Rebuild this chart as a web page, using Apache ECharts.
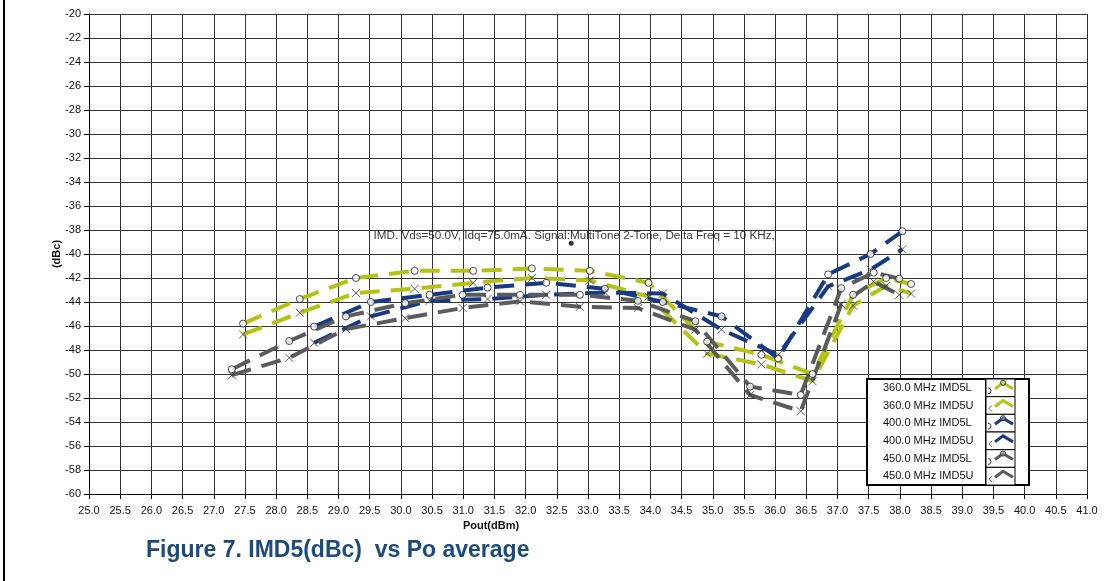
<!DOCTYPE html>
<html>
<head>
<meta charset="utf-8">
<title>IMD5 vs Pout</title>
<script src="https://cdn.jsdelivr.net/npm/echarts@6.0.0/dist/echarts.min.js"></script>
<style>
  html, body { margin: 0; padding: 0; background: #fff; }
  #chart { width: 1106px; height: 581px; }
</style>
</head>
<body>
<div id="chart"></div>
<script>
// Measured output power (dBm) for each frequency
const pout360 = [27.47, 28.38, 29.28, 30.22, 31.16, 32.10, 33.03, 33.97, 34.91, 35.78, 36.60, 37.25, 37.78, 38.18];
const pout400 = [28.61, 29.52, 30.46, 31.39, 32.33, 33.27, 34.20, 35.14, 36.05, 36.85, 37.53, 38.04];
const pout450 = [27.29, 28.21, 29.12, 30.07, 30.99, 31.91, 32.87, 33.80, 34.72, 35.60, 36.41, 37.06, 37.58, 37.99];

// IMD5 lower / upper sidebands (dBc)
const imd5L360 = [-45.8, -43.75, -42.0, -41.4, -41.4, -41.2, -41.4, -42.4, -47.3, -48.4, -50.0, -43.4, -42.0, -42.5];
const imd5U360 = [-46.7, -44.9, -43.25, -42.9, -42.4, -42.0, -42.2, -43.55, -48.3, -49.2, -50.6, -44.3, -42.65, -43.3];
const imd5L400 = [-46.05, -44.0, -43.4, -42.8, -42.4, -42.9, -44.0, -45.2, -48.7, -41.7, -40.0, -38.1];
const imd5U400 = [-47.4, -45.2, -43.9, -43.75, -43.4, -43.2, -43.3, -46.3, -48.4, -42.7, -41.3, -39.6];
const imd5L450 = [-49.6, -47.25, -45.2, -44.1, -43.4, -43.4, -43.4, -43.9, -45.6, -51.05, -51.75, -42.85, -41.55, -42.05];
const imd5U450 = [-50.1, -48.65, -46.25, -45.35, -44.5, -43.95, -44.4, -44.5, -46.3, -51.75, -53.1, -44.2, -42.3, -43.4];

// Axis tick settings
const xMin = 25, xMax = 41, xStep = 0.5;
const yMin = -60, yMax = -20, yStep = 2;

// Test-condition note and its anchor point
const noteText = 'IMD. Vds=50.0V, Idq=75.0mA. Signal:MultiTone 2-Tone, Delta Freq = 10 KHz,';
const notePoint = [[32.73, -39.1]];

const FONT = '"Liberation Sans", Arial, sans-serif';
const YELLOW = '#b3c213';
const NAVY = '#173a86';
const GREY = '#5b5b5b';

const CROSS = 'path://M0 0L10 10M10 0L0 10';

const curves = [
  { name: '360.0 MHz IMD5L', x: pout360, y: imd5L360, color: YELLOW, mark: 'o' },
  { name: '360.0 MHz IMD5U', x: pout360, y: imd5U360, color: YELLOW, mark: 'x' },
  { name: '400.0 MHz IMD5L', x: pout400, y: imd5L400, color: NAVY,   mark: 'o' },
  { name: '400.0 MHz IMD5U', x: pout400, y: imd5U400, color: NAVY,   mark: 'x' },
  { name: '450.0 MHz IMD5L', x: pout450, y: imd5L450, color: GREY,   mark: 'o' },
  { name: '450.0 MHz IMD5U', x: pout450, y: imd5U450, color: GREY,   mark: 'x' }
];

const zip = (xs, ys) => xs.map((v, i) => [v, ys[i]]);

const series = [];
curves.forEach(c => {
  series.push({
    name: c.name,
    type: 'line',
    data: zip(c.x, c.y),
    showSymbol: false,
    silent: true,
    z: 2,
    lineStyle: { color: c.color, width: 4, type: [20, 11], cap: 'butt' }
  });
});
curves.forEach(c => {
  series.push({
    name: c.name + ' markers',
    type: 'scatter',
    data: zip(c.x, c.y),
    silent: true,
    z: 5,
    symbol: c.mark === 'o' ? 'circle' : CROSS,
    symbolSize: c.mark === 'o' ? 7 : 8,
    itemStyle: c.mark === 'o'
      ? { color: '#fff', borderColor: '#1a1a1a', borderWidth: 1 }
      : { color: 'rgba(0,0,0,0)', borderColor: '#333', borderWidth: 1 }
  });
});
series.push({
  name: 'note',
  type: 'scatter',
  data: notePoint,
  symbol: 'circle',
  symbolSize: 5,
  z: 6,
  silent: true,
  itemStyle: { color: '#000' },
  label: {
    show: true,
    position: 'top',
    distance: -1,
    offset: [3, 0],
    formatter: noteText,
    color: '#000',
    fontSize: 11.7,
    fontFamily: FONT
  }
});

// Legend table drawn at the lower right of the plot
const legX = 867, legY = 379, rowH = 17.67;
const textW = 119, iconW = 29, spareW = 14;
const legend = [];
legend.push({ type: 'rect', shape: { x: legX, y: legY, width: textW + iconW + spareW, height: rowH * 6 },
  style: { fill: '#fff', stroke: '#000', lineWidth: 2 }, z: 20 });
legend.push({ type: 'rect', shape: { x: legX, y: legY, width: textW, height: rowH * 6 },
  style: { fill: '#fff', stroke: '#000', lineWidth: 2 }, z: 21 });
curves.forEach((c, i) => {
  const top = legY + i * rowH;
  const cy = top + rowH / 2;
  const ix = legX + textW;
  legend.push({ type: 'text', x: legX + 16, y: cy, z: 22,
    style: { text: c.name, fill: '#111', font: '11px ' + FONT, verticalAlign: 'middle', align: 'left' } });
  legend.push({ type: 'rect', shape: { x: ix, y: top, width: iconW, height: rowH }, z: 21,
    style: { fill: '#fff', stroke: '#000', lineWidth: 1 } });
  if (c.mark === 'o') {
    legend.push({ type: 'arc', shape: { cx: ix + 2, cy: cy + 3, r: 3, startAngle: -Math.PI / 2, endAngle: Math.PI / 2 }, z: 22,
      style: { stroke: '#333', lineWidth: 1, fill: null } });
  } else {
    legend.push({ type: 'polyline', shape: { points: [[ix + 6, cy], [ix + 3, cy + 3], [ix + 6, cy + 6]] }, z: 22,
      style: { stroke: '#555', lineWidth: 1, fill: null } });
  }
  legend.push({ type: 'polyline', shape: { points: [[ix + 9, cy + 1], [ix + 17, cy - 5], [ix + 27, cy + 1]] }, z: 22,
    style: { stroke: c.color, lineWidth: 3, fill: null } });
  if (c.mark === 'o') {
    legend.push({ type: 'circle', shape: { cx: ix + 17, cy: cy - 5, r: 2.5 }, z: 23,
      style: { fill: 'rgba(255,255,255,0.3)', stroke: '#333', lineWidth: 1 } });
  }
});

const option = {
  animation: false,
  backgroundColor: '#fff',
  grid: { left: 89, right: 19, top: 14, bottom: 87, containLabel: false },
  xAxis: {
    type: 'value', min: xMin, max: xMax, interval: xStep,
    axisLine: { show: true, onZero: false, lineStyle: { color: '#000', width: 1 } },
    axisTick: { show: true, length: 5, lineStyle: { color: '#000' } },
    axisLabel: { formatter: v => v.toFixed(1), color: '#111', fontSize: 11, fontFamily: FONT, margin: 11 },
    splitLine: { show: true, lineStyle: { color: '#333', width: 1 } }
  },
  yAxis: {
    type: 'value', min: yMin, max: yMax, interval: yStep,
    axisLine: { show: true, onZero: false, lineStyle: { color: '#000', width: 1 } },
    axisTick: { show: true, length: 5, lineStyle: { color: '#000' } },
    axisLabel: { color: '#111', fontSize: 11, fontFamily: FONT, margin: 8 },
    splitLine: { show: true, lineStyle: { color: '#333', width: 1 } }
  },
  graphic: [
    { type: 'rect', shape: { x: 3, y: 0, width: 2, height: 581 }, style: { fill: '#000' }, z: 30 },
    { type: 'text', x: 57, y: 254, rotation: Math.PI / 2, z: 30,
      style: { text: '(dBc)', fill: '#111', font: 'bold 11px ' + FONT, align: 'center', verticalAlign: 'middle' } },
    { type: 'text', x: 491, y: 526, z: 30,
      style: { text: 'Pout(dBm)', fill: '#111', font: 'bold 11px ' + FONT, align: 'center', verticalAlign: 'middle' } },
    { type: 'text', x: 146, y: 551, z: 30,
      style: { text: 'Figure 7. IMD5(dBc)  vs Po average', fill: '#1b4a7d', font: 'bold 23px ' + FONT, align: 'left', verticalAlign: 'middle' } }
  ].concat(legend),
  series: series
};

const chart = echarts.init(document.getElementById('chart'), null, { renderer: 'canvas' });
chart.setOption(option);
</script>
</body>
</html>
